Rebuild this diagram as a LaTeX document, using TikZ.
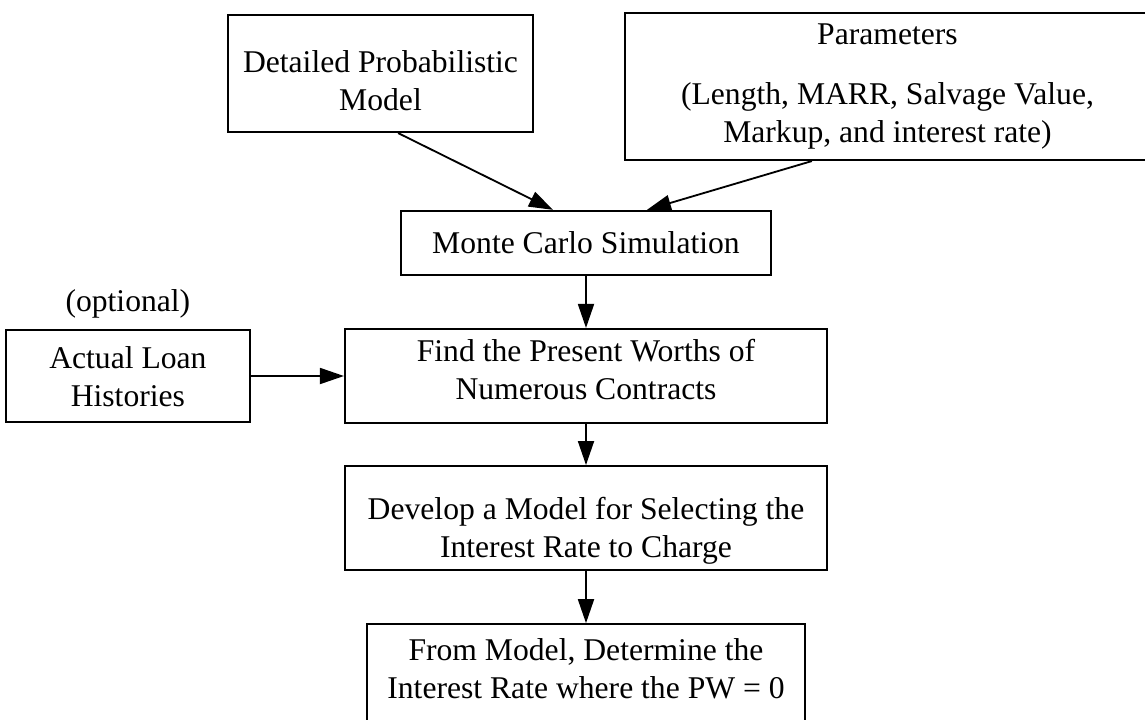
\documentclass[tikz,border=0pt]{standalone}
\usepackage{fontspec}
\setmainfont{Liberation Serif}
\usepackage{tikz}
\usetikzlibrary{positioning, arrows.meta, calc}

\tikzset{
  block/.style={draw, line width=1.5pt, align=center, inner sep=0pt, font=\fontsize{22.5}{27}\selectfont},
  plain/.style={inner sep=0pt, font=\fontsize{22.5}{27}\selectfont},
  flow/.style={-{Triangle[length=6mm, width=4mm]}, line width=1.3pt},
}

\begin{document}
\begin{tikzpicture}
\clip (0,0) rectangle (28.625,-17.975);

\node[block, minimum width=12.05cm, minimum height=2.35cm, text height=1.3cm, text depth=0.15cm] (find) at (14.65,-9.4) {Find the Present Worths of\\Numerous Contracts};
\node[block, minimum width=9.25cm, minimum height=1.6cm, above=1.3cm of find] (mc) {Monte Carlo Simulation};
\node[block, minimum width=12.05cm, minimum height=2.6cm, text height=2.1cm, text depth=0.15cm, below=1.025cm of find] (develop) {Develop a Model for Selecting the\\Interest Rate to Charge};
\node[block, minimum width=10.95cm, minimum height=2.875cm, text height=0.975cm, text depth=0.15cm, below=1.3cm of develop] (result) {From Model, Determine the\\Interest Rate where the PW = 0};
\node[block, minimum width=6.1cm, minimum height=2.3cm, text height=1.67cm, text depth=0.15cm, left=2.325cm of find] (loan) {Actual Loan\\Histories};
\node[plain, above=0.25cm of loan] (optional) {(optional)};
\node[block, minimum width=7.625cm, minimum height=2.925cm, text height=1.975cm, text depth=0.15cm] (model) at (9.5125,-1.8375) {Detailed Probabilistic\\Model};
\node[block, minimum width=13.125cm, minimum height=3.675cm] (params) at (22.1875,-2.1625) {Parameters\\[0.7em](Length, MARR, Salvage Value,\\Markup, and interest rate)};

\draw[flow] ($(model.south)+(0.44,0)$) -- ($(mc.north)+(-0.825,0)$);
\draw[flow] ($(params.south)+(-1.89,0)$) -- ($(mc.north)+(1.525,0)$);
\draw[flow] (mc) -- (find);
\draw[flow] (loan) -- (find);
\draw[flow] (find) -- (develop);
\draw[flow] (develop) -- (result);
\end{tikzpicture}
\end{document}
